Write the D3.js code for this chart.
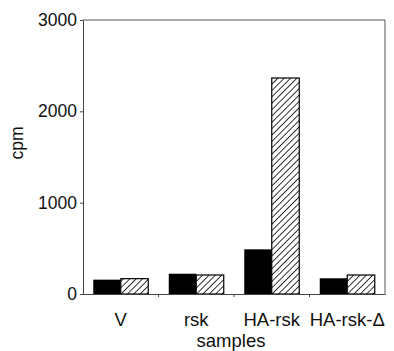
<!DOCTYPE html>
<html>
<head>
<meta charset="utf-8">
<script src="https://cdn.jsdelivr.net/npm/d3@7"></script>
<style>
  body { margin: 0; background: #fff; }
  text { font-family: "Liberation Sans", Arial, sans-serif; fill: #111; }
</style>
</head>
<body>
<div id="chart"></div>
<script>
//// DATA ////
var samples = ["V", "rsk", "HA-rsk", "HA-rsk-\u0394"];
var solidValues = [157, 222, 489, 172];
var hatchedValues = [168, 208, 2365, 208];
var yTicks = [0, 1000, 2000, 3000];

//// SET UP ////
var svgWidth = 394;
var svgHeight = 351;

var margin = { top: 20, right: 9, bottom: 57, left: 83 };
var width = svgWidth - margin.left - margin.right;
var height = svgHeight - margin.top - margin.bottom;

var svg = d3.select("#chart")
  .append("svg")
  .attr("width", svgWidth)
  .attr("height", svgHeight);

// hatch pattern for second series
var defs = svg.append("defs");
var pat = defs.append("pattern")
  .attr("id", "hatch")
  .attr("patternUnits", "userSpaceOnUse")
  .attr("width", 4.5)
  .attr("height", 4.5)
  .attr("patternTransform", "rotate(45)");
pat.append("rect").attr("width", 4.5).attr("height", 4.5).attr("fill", "#fff");
pat.append("line")
  .attr("x1", 0).attr("y1", 0)
  .attr("x2", 0).attr("y2", 4.5)
  .attr("stroke", "#111")
  .attr("stroke-width", 1.7);

var chartGroup = svg.append("g")
  .attr("transform", `translate(${margin.left}, ${margin.top})`);

// scales
var xScale = d3.scaleBand()
  .domain(samples)
  .range([0, width]);

var yScale = d3.scaleLinear()
  .domain([0, 3000])
  .range([height, 0]);

var barWidth = 27.5;

// frame (top + right)
chartGroup.append("path")
  .attr("d", `M0,0H${width}V${height}`)
  .attr("fill", "none")
  .attr("stroke", "#555")
  .attr("stroke-width", 1);

// bars
var groups = chartGroup.selectAll(".pair")
  .data(samples)
  .enter()
  .append("g")
  .attr("transform", d => `translate(${xScale(d) + xScale.bandwidth() / 2}, 0)`);

groups.append("rect")
  .attr("x", -barWidth)
  .attr("y", (d, i) => yScale(solidValues[i]))
  .attr("width", barWidth)
  .attr("height", (d, i) => height - yScale(solidValues[i]))
  .attr("fill", "#000");

groups.append("rect")
  .attr("x", 0)
  .attr("y", (d, i) => yScale(hatchedValues[i]))
  .attr("width", barWidth)
  .attr("height", (d, i) => height - yScale(hatchedValues[i]))
  .attr("fill", "url(#hatch)")
  .attr("stroke", "#000")
  .attr("stroke-width", 1.2);

// y axis
var leftAxis = d3.axisLeft(yScale)
  .tickValues(yTicks)
  .tickSize(3)
  .tickPadding(3)
  .tickFormat(d3.format("d"));

var yAxisG = chartGroup.append("g").call(leftAxis);
yAxisG.select(".domain").attr("stroke", "#444");
yAxisG.selectAll(".tick line").attr("stroke", "#444");
yAxisG.selectAll("text")
  .attr("font-size", 17.5)
  .attr("font-family", "Liberation Sans, Arial, sans-serif")
  .attr("fill", "#111");

// x axis - ticks at category boundaries
var bottomAxis = d3.axisBottom(xScale)
  .tickSize(0)
  .tickPadding(19);

var xAxisG = chartGroup.append("g")
  .attr("transform", `translate(0, ${height})`)
  .call(bottomAxis);
xAxisG.select(".domain").attr("stroke", "#444");
xAxisG.selectAll("text")
  .attr("font-size", 18.5)
  .attr("font-family", "Liberation Sans, Arial, sans-serif")
  .attr("fill", "#111");

xAxisG.selectAll(".sep")
  .data(samples.slice(1))
  .enter()
  .append("line")
  .attr("x1", d => xScale(d))
  .attr("x2", d => xScale(d))
  .attr("y1", 0)
  .attr("y2", 3)
  .attr("stroke", "#444");

// axis titles
chartGroup.append("text")
  .attr("x", width / 2 - 3)
  .attr("y", height + 53)
  .attr("text-anchor", "middle")
  .attr("font-size", 18.5)
  .text("samples");

chartGroup.append("text")
  .attr("transform", "rotate(-90)")
  .attr("x", -123)
  .attr("y", -60)
  .attr("text-anchor", "middle")
  .attr("font-size", 17.5)
  .text("cpm");
</script>
</body>
</html>
